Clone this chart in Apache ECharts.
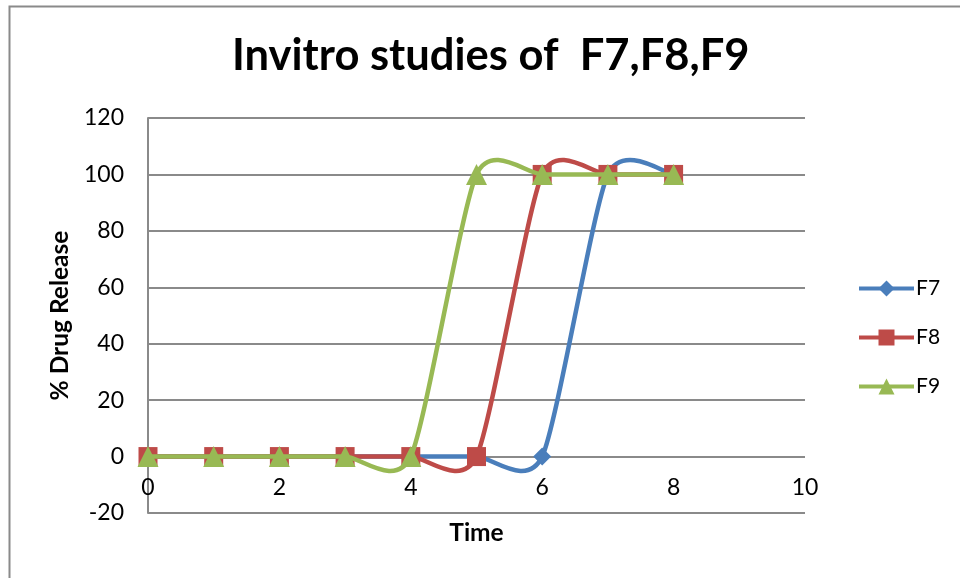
<!DOCTYPE html>
<html>
<head>
<meta charset="utf-8">
<script src="https://cdn.jsdelivr.net/npm/echarts@6/dist/echarts.min.js"></script>
<style>
  html, body { margin: 0; padding: 0; background: #fff; }
  #chart { width: 960px; height: 578px; }
</style>
</head>
<body>
<div id="chart"></div>
<script>
// Time points (h) and % drug release for each formulation
const time = [0, 1, 2, 3, 4, 5, 6, 7, 8];
const f7 = [0, 0, 0, 0, 0, 0, 0, 100, 100];
const f8 = [0, 0, 0, 0, 0, 0, 100, 100, 100];
const f9 = [0, 0, 0, 0, 0, 100, 100, 100, 100];
const seriesNames = ['F7', 'F8', 'F9'];
const titleText = 'Invitro studies of  F7,F8,F9';

const FONT = 'Lato, "Liberation Sans", sans-serif';
const GRID_GRAY = '#8a8a8a';
const TENSION = 0.115; // Catmull-Rom style tangent factor for the smoothed curves
const LINE_W = 4.5;

function pairs(xs, ys) {
  return xs.map((x, i) => [x, ys[i]]);
}

// Markers (and the legend icon) for one formulation
function markerSeries(name, values, color, symbol, size, z) {
  return {
    name: name,
    type: 'line',
    data: pairs(time, values),
    symbol: symbol,
    symbolSize: size,
    showAllSymbol: true,
    z: z,
    lineStyle: { color: color, width: LINE_W, opacity: 0 },
    itemStyle: { color: color, opacity: 1 },
    emphasis: { disabled: true }
  };
}

// Smoothed curve: one cubic Bezier per interval, tangents from neighbouring points
function curveSeries(name, values, color, z) {
  return {
    name: name,
    type: 'custom',
    data: pairs(time, values),
    z: z,
    clip: false,
    silent: true,
    renderItem: function (params, api) {
      const i = params.dataIndex;
      const n = time.length;
      if (i >= n - 1) return null;
      const pt = j => {
        const k = Math.max(0, Math.min(n - 1, j));
        return api.coord([time[k], values[k]]);
      };
      const p0 = pt(i - 1), p1 = pt(i), p2 = pt(i + 1), p3 = pt(i + 2);
      return {
        type: 'bezierCurve',
        shape: {
          x1: p1[0], y1: p1[1],
          x2: p2[0], y2: p2[1],
          cpx1: p1[0] + (p2[0] - p0[0]) * TENSION,
          cpy1: p1[1] + (p2[1] - p0[1]) * TENSION,
          cpx2: p2[0] - (p3[0] - p1[0]) * TENSION,
          cpy2: p2[1] - (p3[1] - p1[1]) * TENSION
        },
        style: { stroke: color, lineWidth: LINE_W, fill: null, lineCap: 'round' }
      };
    }
  };
}

const colors = { F7: '#4A7EBB', F8: '#BE4B48', F9: '#98B954' };

const chart = echarts.init(document.getElementById('chart'), null, { renderer: 'canvas' });
chart.setOption({
  animation: false,
  backgroundColor: '#fff',
  graphic: [{
    type: 'rect',
    shape: { x: 9.5, y: 6.5, width: 1000, height: 700 },
    style: { fill: 'none', stroke: '#8a8a8a', lineWidth: 2 },
    silent: true
  }],
  title: {
    text: titleText,
    left: 232,
    top: 34,
    padding: 0,
    textStyle: { fontFamily: FONT, fontWeight: 'bold', fontSize: 43.5, color: '#000' }
  },
  legend: {
    data: seriesNames,
    orient: 'vertical',
    left: 857,
    top: 278,
    padding: 0,
    itemWidth: 55,
    itemHeight: 20,
    itemGap: 28,
    lineStyle: { width: 4, opacity: 1 },
    textStyle: { fontFamily: FONT, fontSize: 21, color: '#000', lineHeight: 20, padding: [0, 0, 0, -3] }
  },
  grid: { left: 148, right: 155, top: 118, bottom: 65, outerBoundsMode: 'none', containLabel: false },
  xAxis: {
    type: 'value',
    position: 'bottom',
    min: 0,
    max: 10,
    interval: 2,
    name: 'Time',
    nameLocation: 'middle',
    nameGap: 8,
    nameTextStyle: { fontFamily: FONT, fontWeight: 'bold', fontSize: 24.5, color: '#000', verticalAlign: 'top' },
    // the zero line comes from the y-axis grid; tick labels sit just below it
    axisLine: { show: false, onZero: false },
    axisTick: { show: false },
    splitLine: { show: false },
    axisLabel: { fontFamily: FONT, fontSize: 23, color: '#000', margin: -37 }
  },
  yAxis: {
    type: 'value',
    min: -20,
    max: 120,
    interval: 20,
    name: '% Drug Release',
    nameLocation: 'middle',
    nameRotate: 90,
    nameGap: 73,
    nameTextStyle: { fontFamily: FONT, fontWeight: 'bold', fontSize: 24.5, color: '#000' },
    axisLine: { show: true, onZero: false, lineStyle: { color: GRID_GRAY, width: 2 } },
    axisTick: { show: false },
    splitLine: { show: true, lineStyle: { color: GRID_GRAY, width: 2 } },
    axisLabel: { fontFamily: FONT, fontSize: 23, color: '#000', margin: 24 }
  },
  series: [
    markerSeries('F7', f7, colors.F7, 'diamond', 18, 3),
    markerSeries('F8', f8, colors.F8, 'rect', 19, 5),
    markerSeries('F9', f9, colors.F9, 'triangle', 21, 7),
    curveSeries('F7', f7, colors.F7, 2),
    curveSeries('F8', f8, colors.F8, 4),
    curveSeries('F9', f9, colors.F9, 6)
  ]
});
</script>
</body>
</html>
